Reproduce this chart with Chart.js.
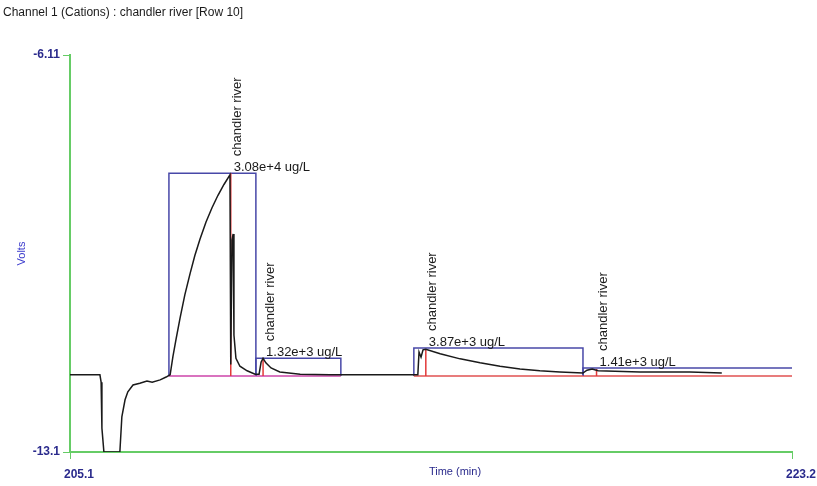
<!DOCTYPE html>
<html>
<head>
<meta charset="utf-8">
<script src="https://cdn.jsdelivr.net/npm/chart.js@4.4.1/dist/chart.umd.min.js"></script>
<style>
  html, body { margin: 0; padding: 0; background: #fff; }
  #wrap { width: 817px; height: 486px; }
</style>
</head>
<body>
<div id="wrap"><canvas id="chromatogram" width="817" height="486"></canvas></div>
<script>
const traceTime = [
  205.10, 205.85, 205.88, 205.90, 205.95, 206.35, 206.40, 206.48, 206.55, 206.68,
  206.85, 207.03, 207.16, 207.36, 207.51, 207.61, 207.68, 207.76, 207.86, 207.98,
  208.11, 208.23, 208.36, 208.51, 208.66, 208.81, 208.96, 209.11, 209.13, 209.16,
  209.19, 209.21, 209.26, 209.36, 209.54, 209.74, 209.84, 209.89, 209.94, 210.01,
  210.14, 210.36, 210.87, 211.62, 213.82, 213.85, 213.90, 213.95, 214.02, 214.38,
  214.88, 215.38, 215.88, 216.38, 216.88, 217.38, 217.96, 218.06, 218.19, 218.34,
  219.39, 220.64, 221.44
];
const traceVolts = [
  -11.74, -11.74, -11.87, -12.68, -13.10, -13.10, -12.48, -12.18, -12.04, -11.92,
  -11.89, -11.85, -11.87, -11.83, -11.78, -11.74, -11.42, -11.11, -10.74, -10.33,
  -9.96, -9.64, -9.35, -9.05, -8.80, -8.58, -8.39, -8.22, -11.56, -9.37,
  -9.26, -11.04, -11.45, -11.59, -11.67, -11.73, -11.73, -11.52, -11.45, -11.53,
  -11.62, -11.69, -11.73, -11.74, -11.74, -11.34, -11.43, -11.30, -11.29, -11.37,
  -11.46, -11.53, -11.59, -11.64, -11.67, -11.69, -11.71, -11.66, -11.64, -11.67,
  -11.69, -11.69, -11.71
];

// Pics intégrés
const peakNames = ['chandler river', 'chandler river', 'chandler river', 'chandler river'];
const peakAmounts = ['3.08e+4 ug/L', '1.32e+3 ug/L', '3.87e+3 ug/L', '1.41e+3 ug/L'];
const peakTimes = [209.13, 209.94, 214.02, 218.30];
const peakVolts = [-8.19, -11.45, -11.29, -11.64];
const boxStart = [207.58, 209.76, 213.72, 217.96];
const boxEnd = [209.76, 211.89, 217.96, 223.40];
const boxTop = [-8.19, -11.45, -11.27, -11.62];
const boxBase = [-11.76, -11.76, -11.76, -11.76];

// Bornes des axes
const xTicks = [205.1, 223.2];
const yTicks = [-13.1, -6.11];

const axisGreen = '#66cc66';
const tickBlue = '#2a2a8c';
const baselineColors = ['#cc44aa', '#cc44aa', '#e05050', '#e05050'];

// Construire les datasets
const datasets = [];
datasets.push({
  label: 'trace',
  data: traceTime.map((t, i) => ({ x: t, y: traceVolts[i] })),
  borderColor: '#1a1a1a',
  borderWidth: 1.5
});
peakTimes.forEach((t, i) => {
  datasets.push({
    label: 'marker ' + i,
    data: [{ x: t, y: peakVolts[i] }, { x: t, y: boxBase[i] }],
    borderColor: '#e23a3a',
    borderWidth: 1.5
  });
});
boxStart.forEach((s, i) => {
  datasets.push({
    label: 'baseline ' + i,
    data: [{ x: s, y: boxBase[i] }, { x: boxEnd[i], y: boxBase[i] }],
    borderColor: baselineColors[i],
    borderWidth: 1.5
  });
  datasets.push({
    label: 'box ' + i,
    data: [
      { x: s, y: boxBase[i] }, { x: s, y: boxTop[i] },
      { x: boxEnd[i], y: boxTop[i] }, { x: boxEnd[i], y: boxBase[i] }
    ],
    borderColor: '#4848a8',
    borderWidth: 1.5
  });
});

// Textes: titre, étiquettes des pics, titre de l'axe X
const annotate = {
  id: 'annotate',
  afterDraw(chart) {
    const { ctx, scales: { x, y } } = chart;
    ctx.save();
    ctx.fillStyle = '#1a1a1a';
    ctx.font = '12px "Liberation Sans", Arial, sans-serif';
    ctx.textAlign = 'left';
    ctx.textBaseline = 'middle';
    ctx.fillText('Channel 1 (Cations) : chandler river [Row 10]', 3, 13);

    peakTimes.forEach((t, i) => {
      const px = x.getPixelForValue(t);
      const py = y.getPixelForValue(boxTop[i]);
      ctx.font = '13px "Liberation Sans", Arial, sans-serif';
      ctx.textAlign = 'left';
      ctx.textBaseline = 'alphabetic';
      ctx.fillText(peakAmounts[i], px + 3, py - 2);
      ctx.save();
      ctx.translate(px + 7, py - 17);
      ctx.rotate(-Math.PI / 2);
      ctx.textBaseline = 'middle';
      ctx.fillText(peakNames[i], 0, 0);
      ctx.restore();
    });

    ctx.fillStyle = tickBlue;
    ctx.font = '11px "Liberation Sans", Arial, sans-serif';
    ctx.textAlign = 'center';
    ctx.textBaseline = 'middle';
    ctx.fillText('Time (min)', 455, 472);
    ctx.restore();
  }
};

new Chart(document.getElementById('chromatogram'), {
  type: 'line',
  data: { datasets: datasets },
  options: {
    responsive: false,
    animation: false,
    devicePixelRatio: 1,
    layout: { padding: { left: 0, top: 55, right: 25, bottom: 0 } },
    elements: { point: { radius: 0 }, line: { tension: 0 } },
    plugins: { legend: { display: false }, tooltip: { enabled: false } },
    scales: {
      x: {
        type: 'linear',
        min: xTicks[0],
        max: xTicks[1],
        afterBuildTicks: scale => { scale.ticks = xTicks.map(v => ({ value: v })); },
        afterFit: scale => { scale.height = 34; },
        ticks: {
          color: tickBlue,
          font: { size: 12, weight: 'bold', family: '"Liberation Sans", Arial, sans-serif' },
          padding: 8,
          labelOffset: 9,
          maxRotation: 0,
          callback: v => String(v)
        },
        grid: { display: true, drawOnChartArea: false, color: axisGreen, tickLength: 7 },
        border: { display: true, color: axisGreen, width: 2 }
      },
      y: {
        type: 'linear',
        min: yTicks[0],
        max: yTicks[1],
        afterBuildTicks: scale => { scale.ticks = yTicks.map(v => ({ value: v })); },
        afterFit: scale => { scale.width = 70; },
        ticks: {
          color: tickBlue,
          font: { size: 12, weight: 'bold', family: '"Liberation Sans", Arial, sans-serif' },
          padding: 3,
          callback: v => String(v)
        },
        title: {
          display: true,
          text: 'Volts',
          color: '#3a3acc',
          font: { size: 11, family: '"Liberation Sans", Arial, sans-serif' },
          padding: { top: 15, bottom: 0 }
        },
        grid: { display: true, drawOnChartArea: false, color: axisGreen, tickLength: 7 },
        border: { display: true, color: axisGreen, width: 2 }
      }
    }
  },
  plugins: [annotate]
});
</script>
</body>
</html>
